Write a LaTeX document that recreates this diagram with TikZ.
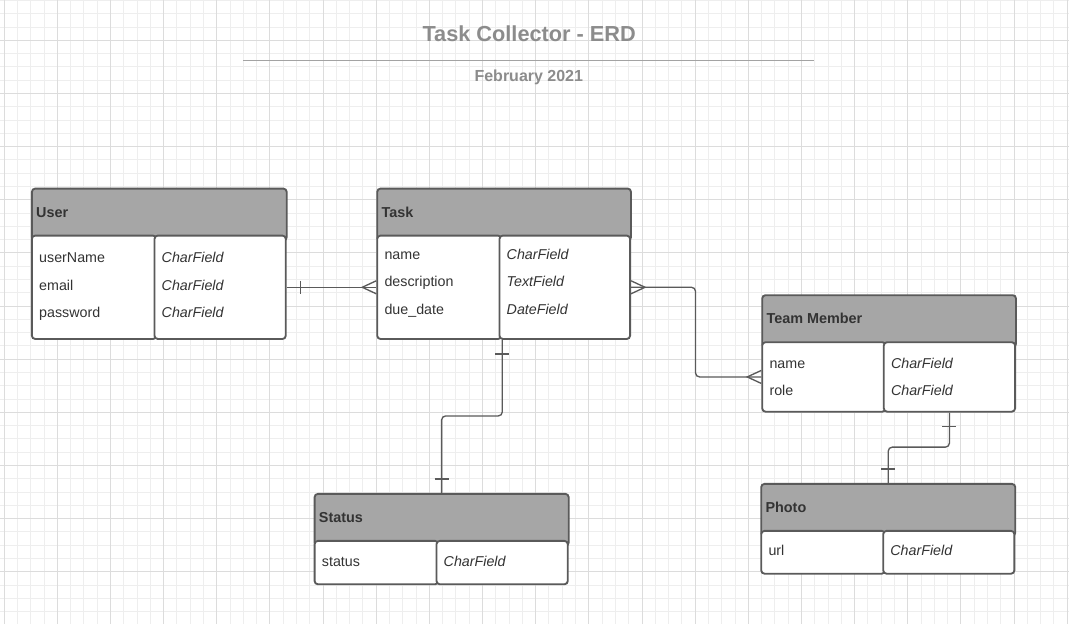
\documentclass[tikz,border=0pt]{standalone}
\usepackage{fontspec}
\setmainfont{Liberation Sans}

\definecolor{edge}{HTML}{5A5A5A}
\definecolor{headfill}{HTML}{A6A6A6}
\definecolor{ink}{HTML}{333333}
\definecolor{faded}{HTML}{8C8C8C}
\definecolor{gridlo}{HTML}{EEEEEE}
\definecolor{gridhi}{HTML}{DCDCDC}

% #1 name, #2 top left, #3 width, #4 divider, #5 height, #6 title, #7 fields, #8 types, #9 first baseline
\newcommand{\erdtable}[9]{%
    \node[headbox, minimum width={(#3-1.9)*0.75pt}, anchor=north west] (#1) at ([shift={(0.95,0.95)}]#2) {};
    \node[cellbox, minimum width={(#4+0.5)*0.75pt}, minimum height={(#5-49.9)*0.75pt}, anchor=north west]
        (#1L) at ([shift={(0,47)}]#1.north west) {};
    \node[cellbox, minimum width={(#3-#4-1.4)*0.75pt}, minimum height={(#5-49.9)*0.75pt}, anchor=north west]
        (#1R) at ([shift={(#4-1.4,47)}]#1.north west) {};
    \node[headtext] (#1-title) at ([shift={(5,29.6)}]#1.north west) {#6};
    \foreach \f [count=\i] in {#7}
        \node[fieldtext] (#1-f\i) at ([shift={(8,{#9-1+27.5*(\i-1)})}]#1.north west) {\f};
    \foreach \t [count=\i] in {#8}
        \node[typetext] (#1-t\i) at ([shift={(#4+6.5,{#9-1+27.5*(\i-1)})}]#1.north west) {\t};
}

\begin{document}
\begin{tikzpicture}[x=0.75pt, y=-0.75pt,
    headbox/.style={draw=edge, line width=1.4pt, fill=headfill, rounded corners=2.5pt,
        minimum height=39pt, inner sep=0pt},
    cellbox/.style={draw=edge, line width=1.4pt, fill=white, rounded corners=2.5pt, inner sep=0pt},
    headtext/.style={anchor=base west, inner sep=0pt, text=ink, font=\fontsize{10.8}{12}\selectfont\bfseries},
    fieldtext/.style={anchor=base west, inner sep=0pt, text=ink, font=\fontsize{10.7}{12}\selectfont},
    typetext/.style={anchor=base west, inner sep=0pt, text=ink, font=\fontsize{10.7}{12}\selectfont\itshape},
    link/.style={draw=edge, line width=1pt},
    gridminor/.style={draw=gridlo, line width=0.75pt},
    gridmajor/.style={draw=gridhi, line width=0.75pt}]

    \useasboundingbox (0,0) rectangle (1069,624);
    \fill[white] (0,0) rectangle (1069,624);

    % Paper grid: minor every 13.29px, major every fourth line
    \foreach \i in {0,...,80} {
        \pgfmathsetmacro\gx{4.2+13.2875*\i}
        \draw[gridminor] (\gx,0) -- (\gx,624);
    }
    \foreach \j in {0,...,46} {
        \pgfmathsetmacro\gy{0.44+13.2875*\j}
        \draw[gridminor] (0,\gy) -- (1069,\gy);
    }
    \foreach \i in {0,...,20} {
        \pgfmathsetmacro\gx{4.2+53.15*\i}
        \draw[gridmajor] (\gx,0) -- (\gx,624);
    }
    \foreach \j in {0,...,10} {
        \pgfmathsetmacro\gy{40.3+53.15*\j}
        \draw[gridmajor] (0,\gy) -- (1069,\gy);
    }

    % Heading
    \node[anchor=base, inner sep=0pt, text=faded, font=\fontsize{16.3}{18}\selectfont\bfseries]
        (title) at (529.2,41.7) {Task Collector - ERD};
    \draw[draw=faded!80, line width=1pt] (243,60.5) -- (814,60.5);
    \node[anchor=base, inner sep=0pt, text=faded, font=\fontsize{12}{14}\selectfont\bfseries]
        (date) at (528.8,81.7) {February 2021};

    % Tables
    \erdtable{user}{30,186.7}{256.7}{124}{153.3}{User}
        {userName,email,password}{CharField,CharField,CharField}{76}
    \erdtable{task}{375.3,186.7}{255.7}{123.7}{153.3}{Task}
        {name,description,due\_date}{CharField,TextField,DateField}{72.6}
    \erdtable{team}{760.3,293.3}{255.7}{123}{119.4}{Team Member}
        {name,role}{CharField,CharField}{75}
    \erdtable{status}{312.7,492}{256}{123.3}{93.3}{Status}
        {status}{CharField}{74.7}
    \erdtable{photo}{759.3,482}{256}{123.4}{92.7}{Photo}
        {url}{CharField}{73.3}

    % User -- Task : one to many
    \draw[link] (userR.east) -- (taskL.west);
    \draw[link] ([shift={(14,-6.5)}]userR.east) -- ([shift={(14,6.5)}]userR.east);
    \draw[link] ([shift={(0,-6.5)}]taskL.west) -- ([shift={(-14,0)}]taskL.west) -- ([shift={(0,6.5)}]taskL.west);

    % Task -- Team Member : many to many
    \draw[link, rounded corners=3pt] (taskR.east) -- ++(64.5,0) |- (teamL.west);
    \draw[link] ([shift={(0,-6.5)}]taskR.east) -- ([shift={(14,0)}]taskR.east) -- ([shift={(0,6.5)}]taskR.east);
    \draw[link] ([shift={(0,-6.5)}]teamL.west) -- ([shift={(-14,0)}]teamL.west) -- ([shift={(0,6.5)}]teamL.west);

    % Task -- Status : one to one
    \draw[link, rounded corners=3pt] (taskL.south east) -- ++(0,76) -| (status.north);
    \draw[link] ([shift={(-7,14)}]taskL.south east) -- ([shift={(7,14)}]taskL.south east);
    \draw[link] ([shift={(-7,-14)}]status.north) -- ([shift={(7,-14)}]status.north);

    % Team Member -- Photo : one to one
    \draw[link, rounded corners=3pt] (teamR.south) -- ++(0,34.5) -| (photo.north);
    \draw[link] ([shift={(-7,14)}]teamR.south) -- ([shift={(7,14)}]teamR.south);
    \draw[link] ([shift={(-7,-14)}]photo.north) -- ([shift={(7,-14)}]photo.north);

\end{tikzpicture}
\end{document}
